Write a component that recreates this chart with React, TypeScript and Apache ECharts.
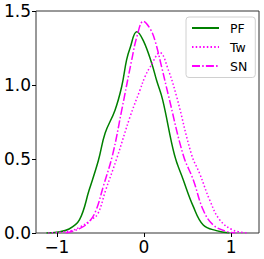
import React, { useEffect, useRef } from "react";
import * as echarts from "echarts";

const pfX = [-1.12, -1.0, -0.86, -0.74, -0.63, -0.524, -0.447, -0.333, -0.256, -0.2, -0.16, -0.084, -0.008, 0.088, 0.145, 0.214, 0.35, 0.45, 0.565, 0.68, 0.83, 0.98];
const pfY = [0, 0.005, 0.027, 0.09, 0.29, 0.49, 0.674, 0.83, 0.99, 1.17, 1.25, 1.36, 1.3, 1.147, 1.03, 0.9, 0.527, 0.36, 0.18, 0.054, 0.016, 0];

const twX = [-1.1, -0.86, -0.74, -0.61, -0.53, -0.44, -0.315, -0.16, -0.046, 0.011, 0.069, 0.183, 0.28, 0.375, 0.547, 0.64, 0.756, 0.87, 1.02, 1.18];
const twY = [0, 0.013, 0.038, 0.088, 0.13, 0.29, 0.5, 0.786, 0.966, 1.056, 1.12, 1.218, 1.1, 0.92, 0.527, 0.4, 0.22, 0.088, 0.02, 0];

const snX = [-0.9, -0.74, -0.63, -0.55, -0.47, -0.36, -0.256, -0.141, -0.08, -0.008, 0.07, 0.126, 0.203, 0.28, 0.45, 0.565, 0.68, 0.795, 0.95, 1.05];
const snY = [0, 0.03, 0.076, 0.155, 0.31, 0.53, 0.83, 1.17, 1.33, 1.43, 1.38, 1.3, 1.12, 0.93, 0.527, 0.36, 0.155, 0.054, 0.01, 0];

const xTicks = [-1, 0, 1];
const seriesNames = ["PF", "Tw", "SN"];

const zip = (xs: number[], ys: number[]) => xs.map((x, i) => [x, ys[i]]);

export default function App() {
  const ref = useRef<HTMLDivElement>(null);
  useEffect(() => {
    if (!ref.current) return;
    const chart = echarts.init(ref.current, null, { renderer: "svg" });
    const font = "DejaVu Sans";
    chart.setOption({
      animation: false,
      grid: {
        left: 36,
        right: 5,
        top: 11,
        bottom: 26,
        show: true,
        borderColor: "#333",
        borderWidth: 1,
        backgroundColor: "transparent",
      },
      legend: {
        left: 186,
        top: 17,
        orient: "vertical",
        padding: [4.5, 8, 5, 5],
        itemGap: 6,
        itemWidth: 27,
        itemHeight: 14,
        borderColor: "#d0d0d0",
        borderWidth: 1,
        borderRadius: 3,
        backgroundColor: "rgba(255,255,255,0.8)",
        itemStyle: { opacity: 0 },
        textStyle: { fontFamily: font, fontSize: 12.5, color: "#000", padding: [0, 0, 0, 6] },
        data: seriesNames,
      },
      xAxis: {
        type: "value",
        min: -1.24,
        max: 1.32,
        splitLine: { show: false },
        axisLine: { show: false, onZero: false },
        axisTick: { show: true, customValues: xTicks, length: 4, inside: false, lineStyle: { color: "#000" } },
        axisLabel: {
          customValues: xTicks,
          margin: 5,
          fontFamily: font,
          fontSize: 17,
          color: "#000",
          formatter: (v: number) => (v < 0 ? "\u2212" + Math.abs(v) : String(v)),
        },
      },
      yAxis: {
        type: "value",
        min: 0,
        max: 1.5,
        interval: 0.5,
        splitLine: { show: false },
        axisLine: { show: false, onZero: false },
        axisTick: { show: true, length: 4, lineStyle: { color: "#000" } },
        axisLabel: {
          margin: 5,
          fontFamily: font,
          fontSize: 17,
          color: "#000",
          formatter: (v: number) => v.toFixed(1),
        },
      },
      series: [
        {
          name: "PF",
          type: "line",
          data: zip(pfX, pfY),
          smooth: 0.4,
          symbol: "none",
          lineStyle: { color: "#008000", width: 1.5, type: "solid" },
          itemStyle: { color: "#008000" },
        },
        {
          name: "Tw",
          type: "line",
          data: zip(twX, twY),
          smooth: 0.4,
          symbol: "none",
          lineStyle: { color: "#ff00ff", width: 1.5, type: [1.5, 2.2] },
          itemStyle: { color: "#ff00ff" },
        },
        {
          name: "SN",
          type: "line",
          data: zip(snX, snY),
          smooth: 0.4,
          symbol: "none",
          lineStyle: { color: "#ff00ff", width: 1.5, type: [8, 2.2, 1.5, 2.2] },
          itemStyle: { color: "#ff00ff" },
        },
      ],
    });
    return () => chart.dispose();
  }, []);
  return <div ref={ref} style={{ width: 264, height: 259, position: "absolute", left: 0, top: 0 }} />;
}
